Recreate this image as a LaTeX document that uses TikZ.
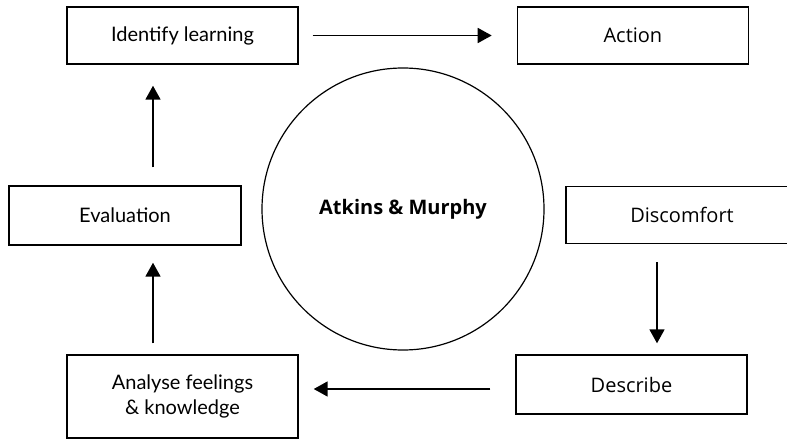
\documentclass[tikz,border=0pt]{standalone}
\usepackage{fontspec}
\setmainfont{Open Sans}
\newfontfamily\leftfont{Lato}
\usetikzlibrary{arrows.meta}
\usetikzlibrary{positioning}

\begin{document}
\begin{tikzpicture}[x=1pt, y=-1pt,
          box/.style = {rectangle, draw, line width=1.4pt, minimum width=231pt, minimum height=57pt, align=center, font=\fontsize{20}{25}\selectfont},
          lbox/.style = {box, font=\leftfont\fontsize{20}{25}\selectfont},
          hub/.style = {circle, draw, line width=1.2pt, minimum size=282pt, font=\bfseries\fontsize{20}{24}\selectfont},
          arrow/.style = {line width=1.8pt, -{Triangle[length=14pt,width=15pt]}}
        ]
        \useasboundingbox (0,0) rectangle (787,439);

        % Nodes
        \node[lbox] (learn) at (182.5,35.5) {Identify learning};
        \node[box, right=218pt of learn] (action) {Action};
        \node[lbox, minimum width=232pt, minimum height=59pt] (eval) at (125,215.5) {Evaluation};
        \node[box, minimum width=232pt] (discomfort) at (682,215) {Discomfort};
        \node[lbox, minimum height=83pt] (analyse) at (182.5,396.5) {Analyse feelings\\ \& knowledge};
        \node[box, minimum height=59pt] (describe) at (631.5,384.5) {Describe};
        \node[hub] (hub) at (403,209) {Atkins \& Murphy};

        % Paths between nodes
        \draw[arrow, shorten <=14pt, shorten >=25pt] (learn) -- (action);
        \draw[arrow] ([xshift=-25pt,yshift=-18pt]discomfort.south) -- ([xshift=25.5pt,yshift=11pt]describe.north);
        \draw[arrow] ([xshift=-25pt,yshift=-4.5pt]describe.west) -- ([xshift=15pt,yshift=7.5pt]analyse.east);
        \draw[arrow] ([xshift=-29.5pt,yshift=11pt]analyse.north) -- ([xshift=28pt,yshift=-17pt]eval.south);
        \draw[arrow] ([xshift=28pt,yshift=18pt]eval.north) -- ([xshift=-29.5pt,yshift=-21pt]learn.south);

      \end{tikzpicture}
\end{document}
